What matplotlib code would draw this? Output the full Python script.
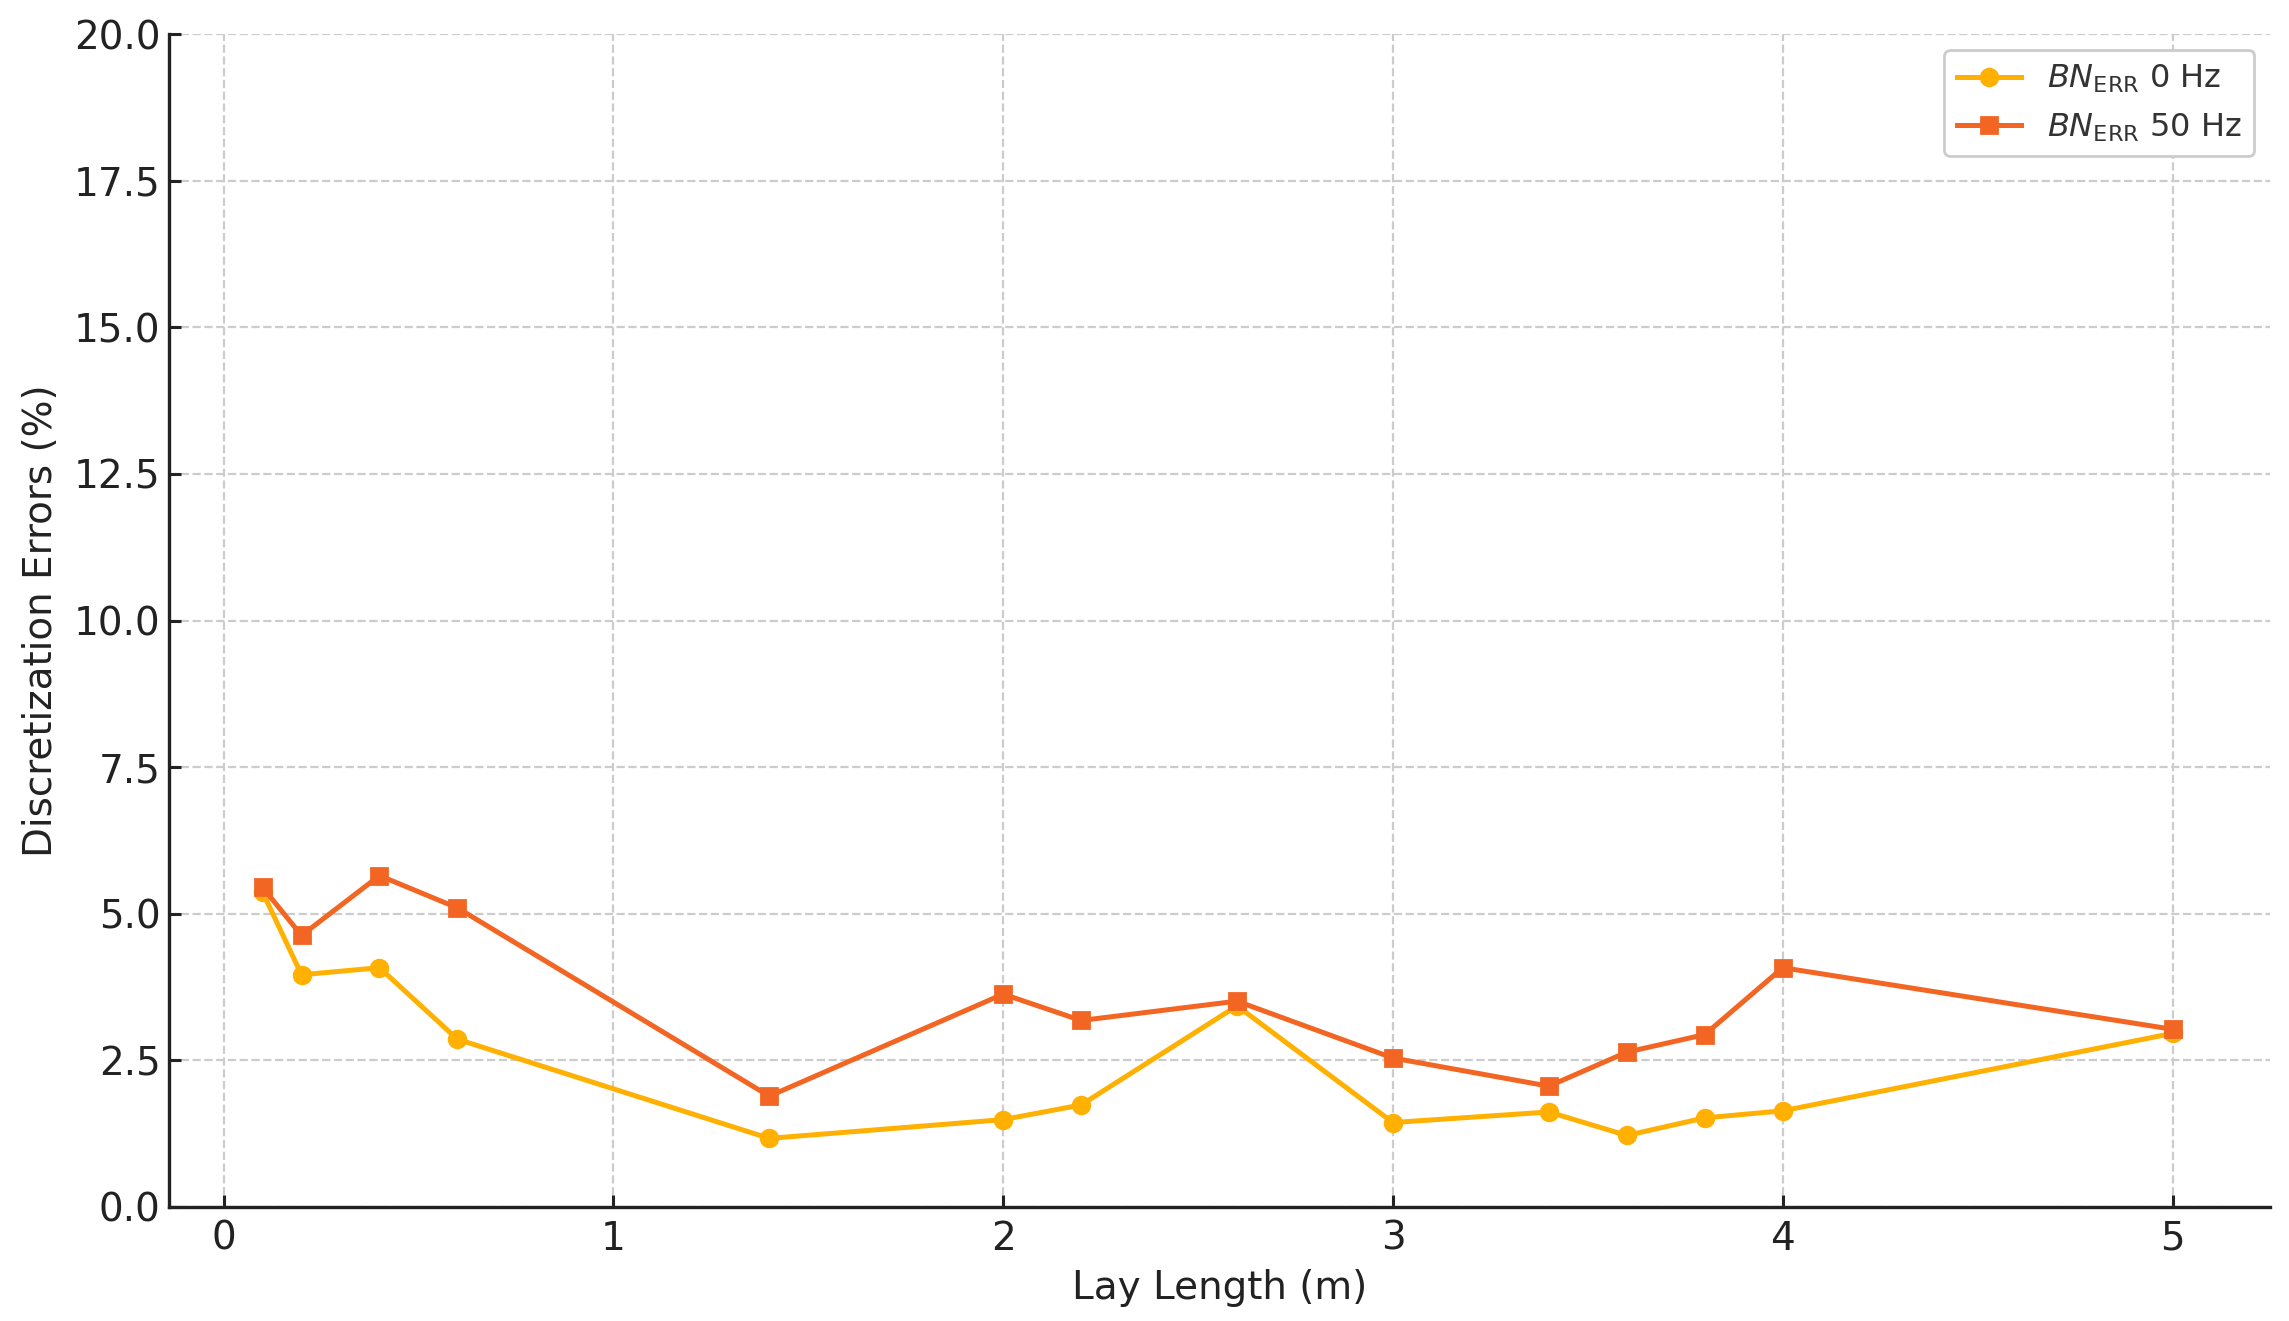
import numpy as np
import matplotlib
matplotlib.use('Agg')
import matplotlib.pyplot as plt

lay_length = [0.1, 0.2, 0.4, 0.6, 1.4, 2.0, 2.2, 2.6, 3.0, 3.4, 3.6, 3.8, 4.0, 5.0]
err_0hz = [5.37, 3.96, 4.08, 2.86, 1.17, 1.49, 1.74, 3.43, 1.44, 1.62, 1.22, 1.52, 1.64, 2.96]
err_50hz = [5.45, 4.63, 5.65, 5.10, 1.89, 3.63, 3.18, 3.51, 2.54, 2.06, 2.64, 2.94, 4.08, 3.03]

x_ticks = [0, 1, 2, 3, 4, 5]
y_ticks = [0.0, 2.5, 5.0, 7.5, 10.0, 12.5, 15.0, 17.5, 20.0]

plt.rcParams['font.family'] = ['DejaVu Sans']
plt.rcParams['mathtext.fontset'] = 'dejavusans'

fig = plt.figure(figsize=(11.445, 6.605), dpi=200)
ax = fig.add_axes([169/2289, 1-1207/1321, (2270-169)/2289, (1207-34)/1321])

ax.plot(lay_length, err_0hz, color='#FFB000', marker='o', markersize=6, linewidth=1.8,
        label=r'$BN_{\mathrm{ERR}}$ 0 Hz')
ax.plot(lay_length, err_50hz, color='#F26522', marker='s', markersize=6, linewidth=1.8,
        label=r'$BN_{\mathrm{ERR}}$ 50 Hz')

ax.set_xlim(-0.14, 5.25)
ax.set_ylim(0, 20)
ax.set_xticks(x_ticks)
ax.set_yticks(y_ticks)
ax.grid(True, linestyle='--', color='#cccccc', linewidth=0.8)
ax.set_axisbelow(True)
for s in ['top', 'right']:
    ax.spines[s].set_visible(False)
for s in ['left', 'bottom']:
    ax.spines[s].set_color('#222222')
    ax.spines[s].set_linewidth(1.2)
ax.tick_params(labelsize=14, colors='#222222', direction='in', length=4.3, width=1.1, pad=4.5)
ax.tick_params(axis='y', pad=3)
ax.set_xlabel('Lay Length (m)', fontsize=14, color='#222222', labelpad=4)
ax.set_ylabel('Discretization Errors (%)', fontsize=14, color='#222222', labelpad=5)
leg = ax.legend(loc='upper right', fontsize=11.5, framealpha=1, edgecolor='#cccccc')
for t in leg.get_texts():
    t.set_color('#333333')

fig.savefig('out.png', dpi=200)
